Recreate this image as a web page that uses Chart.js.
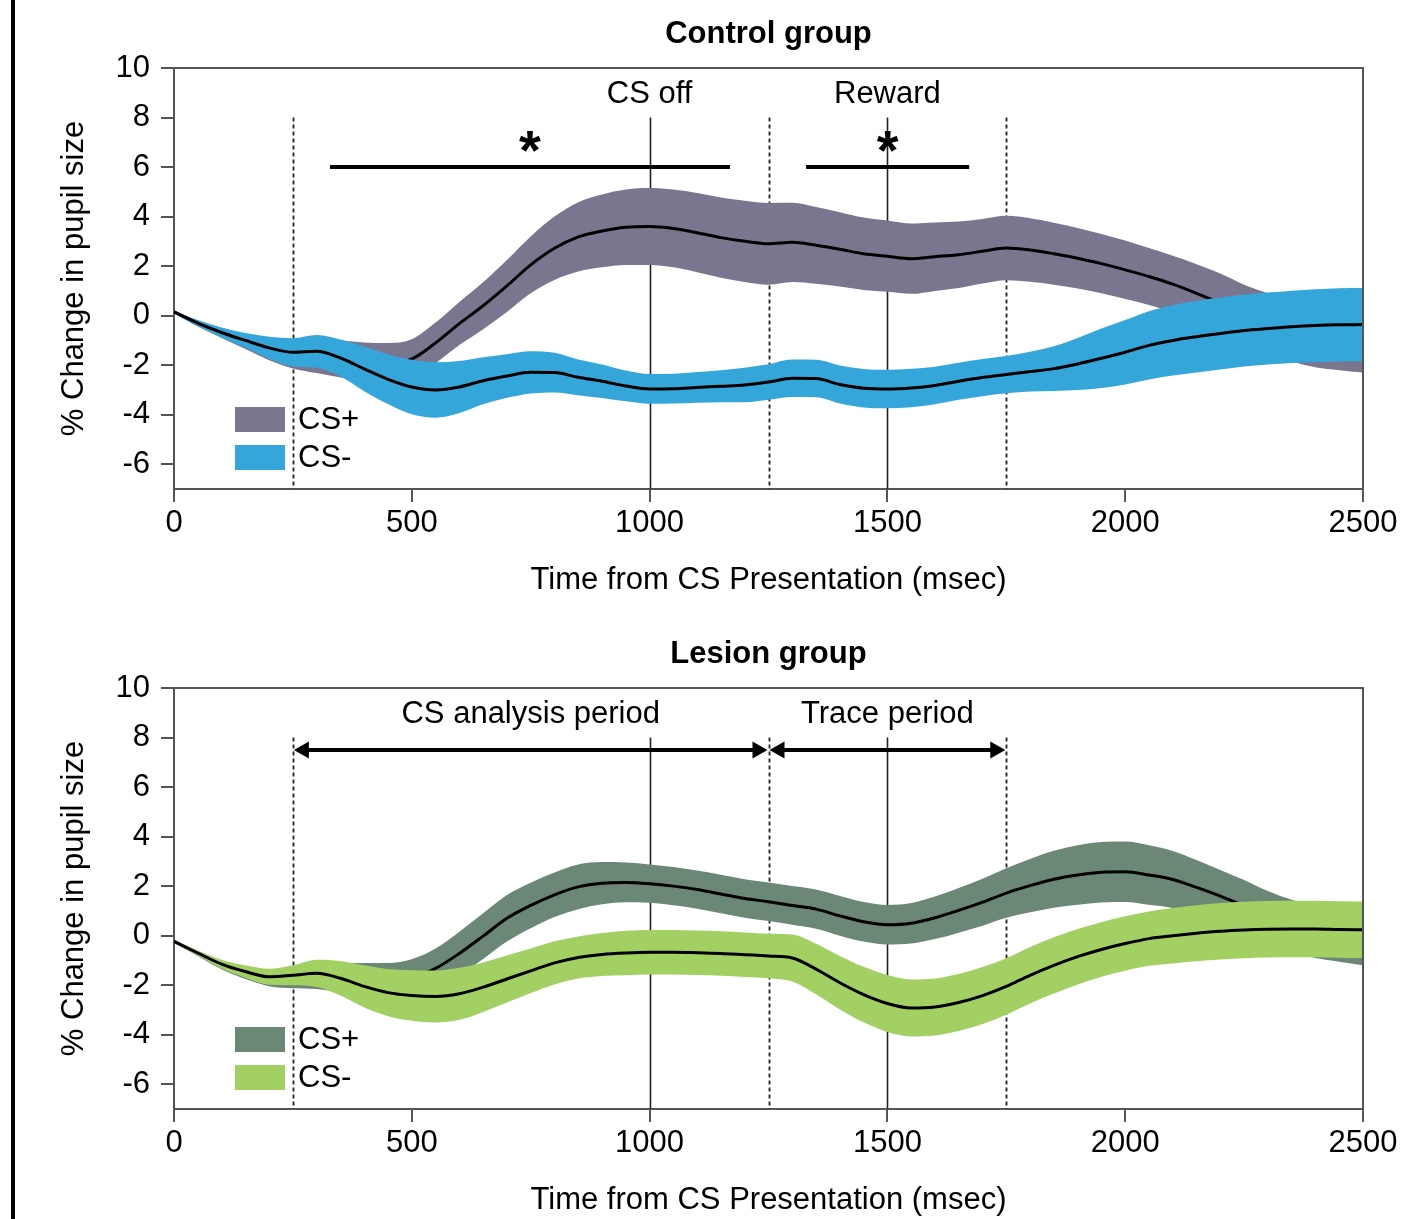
<!DOCTYPE html>
<html><head><meta charset="utf-8">
<script src="https://cdn.jsdelivr.net/npm/chart.js@4.4.1/dist/chart.umd.min.js"></script>
<style>
html,body{margin:0;padding:0;background:#fff;width:1412px;height:1219px;overflow:hidden;}
#c1{position:absolute;left:0;top:0;}
#c2{position:absolute;left:0;top:620px;}
#bar{position:absolute;left:11px;top:0;width:4px;height:1219px;background:#000;z-index:5;}
</style></head><body>
<canvas id="c1" width="1412" height="620"></canvas>
<canvas id="c2" width="1412" height="620"></canvas>
<div id="bar"></div>
<script>
// ---------- data ----------
const times = [0,50,100,150,200,250,300,350,400,450,500,550,600,650,700,750,800,850,900,950,1000,1050,1100,1150,1200,1250,1300,1350,1400,1450,1500,1550,1600,1650,1700,1750,1800,1850,1900,1950,2000,2050,2100,2150,2200,2250,2300,2350,2400,2450,2500];
const xTicks = [0,500,1000,1500,2000,2500];
const yTicks = [-6,-4,-2,0,2,4,6,8,10];

// Control group
const ctrlPlusMean = [0.15,-0.32,-0.7,-1.05,-1.35,-1.55,-1.62,-1.75,-1.88,-1.95,-1.75,-1.1,-0.32,0.4,1.2,2.05,2.72,3.18,3.42,3.57,3.6,3.52,3.35,3.15,3.0,2.9,2.96,2.84,2.68,2.5,2.4,2.3,2.38,2.46,2.6,2.73,2.65,2.5,2.32,2.1,1.85,1.58,1.27,0.9,0.5,0.05,-0.3,-0.65,-0.88,-1.0,-1.1];
const ctrlPlusErr = [0.05,0.12,0.2,0.3,0.45,0.58,0.7,0.75,0.8,0.85,0.8,0.82,0.87,0.95,1.05,1.15,1.28,1.4,1.47,1.52,1.55,1.57,1.6,1.62,1.64,1.65,1.6,1.55,1.5,1.46,1.44,1.42,1.38,1.34,1.3,1.3,1.28,1.25,1.22,1.2,1.18,1.15,1.15,1.18,1.2,1.2,1.2,1.2,1.2,1.2,1.2];
const ctrlMinusMean = [0.15,-0.3,-0.68,-1.0,-1.3,-1.48,-1.44,-1.71,-2.15,-2.57,-2.88,-3.0,-2.88,-2.63,-2.44,-2.29,-2.3,-2.49,-2.65,-2.84,-2.96,-2.95,-2.9,-2.85,-2.8,-2.68,-2.53,-2.54,-2.78,-2.93,-2.96,-2.92,-2.82,-2.65,-2.5,-2.38,-2.26,-2.14,-1.95,-1.72,-1.48,-1.2,-1.0,-0.85,-0.72,-0.6,-0.52,-0.45,-0.4,-0.37,-0.36];
const ctrlMinusErr = [0.05,0.12,0.2,0.3,0.45,0.57,0.66,0.75,0.9,1.0,1.1,1.12,1.05,0.95,0.88,0.85,0.8,0.72,0.68,0.62,0.6,0.6,0.62,0.65,0.7,0.72,0.76,0.76,0.77,0.78,0.78,0.78,0.76,0.75,0.75,0.75,0.8,0.9,1.05,1.2,1.3,1.38,1.42,1.45,1.45,1.45,1.45,1.46,1.47,1.48,1.48];

// Lesion group
const lesPlusMean = [-0.23,-0.72,-1.18,-1.5,-1.72,-1.72,-1.65,-1.7,-1.78,-1.82,-1.7,-1.32,-0.72,-0.02,0.7,1.22,1.65,1.97,2.12,2.15,2.1,2.0,1.86,1.68,1.5,1.37,1.22,1.07,0.8,0.56,0.44,0.5,0.72,1.02,1.35,1.72,2.02,2.28,2.45,2.56,2.58,2.45,2.27,1.95,1.6,1.2,0.75,0.4,0.15,0.0,-0.15];
const lesPlusErr = [0.05,0.1,0.18,0.25,0.32,0.4,0.5,0.6,0.68,0.72,0.75,0.8,0.88,0.92,0.94,0.92,0.9,0.9,0.85,0.8,0.77,0.77,0.77,0.78,0.78,0.78,0.78,0.79,0.8,0.8,0.8,0.82,0.86,0.9,0.95,1.0,1.08,1.15,1.2,1.22,1.22,1.2,1.15,1.1,1.05,1.05,1.05,1.05,1.05,1.05,1.05];
const lesMinusMean = [-0.23,-0.7,-1.15,-1.45,-1.66,-1.6,-1.52,-1.72,-2.05,-2.3,-2.42,-2.46,-2.35,-2.08,-1.75,-1.42,-1.1,-0.88,-0.76,-0.7,-0.67,-0.67,-0.69,-0.72,-0.77,-0.82,-0.9,-1.35,-1.9,-2.38,-2.74,-2.92,-2.88,-2.7,-2.42,-2.05,-1.6,-1.2,-0.85,-0.56,-0.32,-0.12,0.0,0.1,0.18,0.23,0.26,0.27,0.27,0.25,0.24];
const lesMinusErr = [0.05,0.1,0.18,0.25,0.32,0.4,0.55,0.7,0.85,0.95,1.02,1.05,1.05,1.0,0.95,0.9,0.87,0.85,0.87,0.9,0.9,0.9,0.9,0.9,0.9,0.9,0.95,1.02,1.08,1.12,1.15,1.15,1.15,1.15,1.15,1.14,1.14,1.14,1.12,1.1,1.1,1.1,1.12,1.13,1.14,1.14,1.14,1.14,1.14,1.14,1.14];

const legendLabels = ['CS+','CS-'];
const dashedMarks = [250,1250,1750];
const solidMarks = [1000,1500];
const markTop = 8;
const ctrlLabels = [{text:'CS off', t:1000},{text:'Reward', t:1500}];
const sigBars = [[328,1169],[1329,1672]];
const sigY = 6;
const lesLabels = [{text:'CS analysis period', t:750},{text:'Trace period', t:1500}];
const periods = [[250,1250],[1250,1750]];
const periodY = 7.5;
const labelY = 8.92;

// ---------- chart ----------
const FONT = "'Liberation Sans', Arial, Helvetica, sans-serif";
const FS = 31;
Chart.defaults.font.family = FONT;
Chart.defaults.font.size = FS;
Chart.defaults.color = '#000';

function pts(mean, err, sign){ return times.map((t,i)=>({x:t, y: mean[i] + sign*err[i]})); }

function datasets(plusMean, plusErr, plusColor, minusMean, minusErr, minusColor){
  const common = {pointRadius:0, pointHoverRadius:0, cubicInterpolationMode:'monotone'};
  return [
    Object.assign({label:'CS- mean', data:pts(minusMean,minusErr,0), borderColor:'#000', borderWidth:3, fill:false, order:0}, common),
    Object.assign({label:'CS- upper', data:pts(minusMean,minusErr,1), borderColor:'rgba(0,0,0,0)', borderWidth:0, backgroundColor:minusColor, fill:2, order:1}, common),
    Object.assign({label:'CS- lower', data:pts(minusMean,minusErr,-1), borderColor:'rgba(0,0,0,0)', borderWidth:0, fill:false, order:2}, common),
    Object.assign({label:'CS+ mean', data:pts(plusMean,plusErr,0), borderColor:'#000', borderWidth:3, fill:false, order:3}, common),
    Object.assign({label:'CS+ upper', data:pts(plusMean,plusErr,1), borderColor:'rgba(0,0,0,0)', borderWidth:0, backgroundColor:plusColor, fill:5, order:4}, common),
    Object.assign({label:'CS+ lower', data:pts(plusMean,plusErr,-1), borderColor:'rgba(0,0,0,0)', borderWidth:0, fill:false, order:5}, common)
  ];
}

function arrowHead(ctx, xTip, yy, dir){
  const L = 15, H = 8.5;
  ctx.beginPath();
  ctx.moveTo(xTip, yy);
  ctx.lineTo(xTip + dir*L, yy - H);
  ctx.lineTo(xTip + dir*L, yy + H);
  ctx.closePath();
  ctx.fill();
}

const decor = {
  id:'decor',
  beforeDatasetsDraw(chart, args, o){
    const {ctx, chartArea:ca, scales:{x, y}} = chart;
    ctx.save();
    ctx.strokeStyle = '#222'; ctx.lineWidth = 1.8;
    ctx.setLineDash([4,3]);
    dashedMarks.forEach(t=>{
      const px = Math.round(x.getPixelForValue(t)) + 0.5;
      ctx.beginPath(); ctx.moveTo(px, y.getPixelForValue(markTop)); ctx.lineTo(px, ca.bottom); ctx.stroke();
    });
    ctx.setLineDash([]);
    ctx.lineWidth = 1.6;
    solidMarks.forEach(t=>{
      const px = Math.round(x.getPixelForValue(t)) + 0.5;
      ctx.beginPath(); ctx.moveTo(px, y.getPixelForValue(markTop)); ctx.lineTo(px, ca.bottom); ctx.stroke();
    });
    ctx.restore();
  },
  afterDatasetsDraw(chart, args, o){
    const {ctx, chartArea:ca, scales:{x, y}} = chart;
    ctx.save();
    // box top & right
    ctx.strokeStyle = '#555'; ctx.lineWidth = 2;
    ctx.beginPath(); ctx.moveTo(ca.left, ca.top); ctx.lineTo(ca.right, ca.top); ctx.lineTo(ca.right, ca.bottom); ctx.stroke();
    // period labels
    ctx.fillStyle = '#000'; ctx.textAlign = 'center'; ctx.textBaseline = 'middle';
    ctx.font = FS + 'px ' + FONT;
    o.labels.forEach(l=> ctx.fillText(l.text, x.getPixelForValue(l.t), y.getPixelForValue(labelY)));
    ctx.strokeStyle = '#000';
    if (o.mode === 'sig'){
      ctx.lineWidth = 4;
      const yy = y.getPixelForValue(sigY);
      sigBars.forEach(b=>{
        ctx.beginPath(); ctx.moveTo(x.getPixelForValue(b[0]), yy); ctx.lineTo(x.getPixelForValue(b[1]), yy); ctx.stroke();
      });
      ctx.font = 'bold 56px ' + FONT; ctx.textBaseline = 'alphabetic';
      sigBars.forEach(b=> ctx.fillText('*', x.getPixelForValue((b[0]+b[1])/2), yy + 2));
    } else {
      ctx.lineWidth = 4;
      const yy = y.getPixelForValue(periodY);
      periods.forEach(p=>{
        const x1 = x.getPixelForValue(p[0]) + 1, x2 = x.getPixelForValue(p[1]) - 1;
        ctx.beginPath(); ctx.moveTo(x1 + 10, yy); ctx.lineTo(x2 - 10, yy); ctx.stroke();
        arrowHead(ctx, x1, yy, 1);
        arrowHead(ctx, x2, yy, -1);
      });
    }
    // legend
    ctx.font = FS + 'px ' + FONT; ctx.textAlign = 'left'; ctx.textBaseline = 'middle';
    o.legend.forEach((c, i)=>{
      const top = ca.top + 339 + i*38;
      ctx.fillStyle = c; ctx.fillRect(ca.left + 61, top, 50, 25);
      ctx.fillStyle = '#000'; ctx.fillText(legendLabels[i], ca.left + 124, top + 13);
    });
    // title
    ctx.font = 'bold ' + FS + 'px ' + FONT; ctx.textAlign = 'center';
    ctx.fillText(o.title, (ca.left + ca.right)/2, 34);
    ctx.restore();
  }
};

function makeChart(id, ds, pluginOpts){
  return new Chart(document.getElementById(id), {
    type:'line',
    data:{datasets:ds},
    plugins:[decor],
    options:{
      responsive:false, animation:false, events:[],
      layout:{padding:{top:68, left:0, right:49, bottom:0}},
      plugins:{legend:{display:false}, tooltip:{enabled:false}, title:{display:false}, decor:pluginOpts},
      scales:{
        x:{type:'linear', min:0, max:2500,
          afterBuildTicks(s){ s.ticks = xTicks.map(v=>({value:v})); },
          ticks:{color:'#000', font:{size:FS}, padding:3, maxRotation:0, autoSkip:false, callback:v=>String(v)},
          grid:{drawOnChartArea:false, drawTicks:true, tickLength:13, color:'#555', lineWidth:2},
          border:{display:true, color:'#555', width:2},
          title:{display:true, text:'Time from CS Presentation (msec)', color:'#000', font:{size:FS}, padding:{top:0, bottom:21}},
          afterFit(s){ s.height = 131; }
        },
        y:{type:'linear', min:-7, max:10,
          afterBuildTicks(s){ s.ticks = yTicks.map(v=>({value:v})); },
          ticks:{color:'#000', font:{size:FS}, padding:11, autoSkip:false, callback:v=>String(v)},
          grid:{drawOnChartArea:false, drawTicks:true, tickLength:13, color:'#555', lineWidth:2},
          border:{display:true, color:'#555', width:2},
          title:{display:true, text:'% Change in pupil size', color:'#000', font:{size:FS}, padding:{top:56, bottom:0}},
          afterFit(s){ s.height = s.height; s.width = 174; }
        }
      }
    }
  });
}

makeChart('c1', datasets(ctrlPlusMean, ctrlPlusErr, '#7a768f', ctrlMinusMean, ctrlMinusErr, '#35a6d9'),
  {title:'Control group', labels:ctrlLabels, mode:'sig', legend:['#7a768f','#35a6d9']});
makeChart('c2', datasets(lesPlusMean, lesPlusErr, '#6b8775', lesMinusMean, lesMinusErr, '#a3d062'),
  {title:'Lesion group', labels:lesLabels, mode:'arrow', legend:['#6b8775','#a3d062']});
</script></body></html>
